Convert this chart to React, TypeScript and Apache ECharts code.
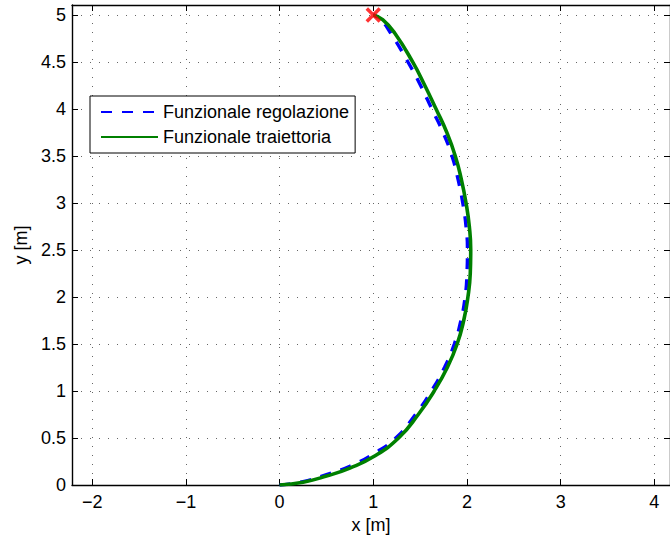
import React, { useEffect, useRef } from "react";
import * as echarts from "echarts";

// Trajectory obtained with the regulation functional (dashed blue)
const regolazioneX = [0, 0.25, 0.5, 0.75, 1.0, 1.24, 1.45, 1.62, 1.76, 1.865, 1.935, 1.98, 2.0, 2.005, 1.99, 1.955, 1.905, 1.84, 1.745, 1.625, 1.505, 1.37, 1.19, 1.08, 1.0];
const regolazioneY = [0, 0.035, 0.11, 0.2, 0.33, 0.5, 0.75, 1.0, 1.25, 1.5, 1.75, 2.0, 2.25, 2.5, 2.75, 3.0, 3.25, 3.5, 3.75, 4.0, 4.25, 4.5, 4.8, 4.95, 5.0];

// Trajectory obtained with the trajectory functional (solid green)
const traiettoriaX = [0, 0.25, 0.5, 0.75, 1.0, 1.27, 1.48, 1.65, 1.79, 1.895, 1.965, 2.01, 2.035, 2.04, 2.025, 1.99, 1.94, 1.875, 1.785, 1.67, 1.55, 1.42, 1.23, 1.1, 1.0];
const traiettoriaY = [0, 0.03, 0.095, 0.18, 0.3, 0.5, 0.75, 1.0, 1.25, 1.5, 1.75, 2.0, 2.25, 2.5, 2.75, 3.0, 3.25, 3.5, 3.75, 4.0, 4.25, 4.5, 4.805, 4.95, 5.0];

// Target point
const targetPoint = [1, 5];

const xTicks = [-2, -1, 0, 1, 2, 3, 4];
const yTicks = [0, 0.5, 1, 1.5, 2, 2.5, 3, 3.5, 4, 4.5, 5];

const seriesNames = ["Funzionale regolazione", "Funzionale traiettoria"];

const FONT = "Liberation Sans, Arial, Helvetica, sans-serif";

const zip = (xs: number[], ys: number[]) => xs.map((x, i) => [x, ys[i]]);

export default function App() {
  const ref = useRef<HTMLDivElement>(null);

  useEffect(() => {
    if (!ref.current) return;
    const chart = echarts.init(ref.current, null, { renderer: "svg" });

    const gridLine = {
      show: true,
      lineStyle: { color: "#666", width: 1, type: [1, 8] as number[] },
    };
    const axisLine = { show: true, onZero: false, lineStyle: { color: "#000", width: 1.4 } };
    const fmt = (v: number) => String(v).replace("-", "\u2212");

    chart.setOption({
      animation: false,
      backgroundColor: "#fff",
      textStyle: { fontFamily: FONT },
      grid: { left: 72, top: 5, right: -2, bottom: 55, containLabel: false },
      legend: {
        data: seriesNames,
        orient: "vertical",
        left: 90,
        top: 96,
        backgroundColor: "#fff",
        borderColor: "#000",
        borderWidth: 1,
        padding: [7, 6, 7, 10],
        itemWidth: 57,
        itemHeight: 14,
        itemGap: 7,
        itemStyle: { opacity: 0 },
        textStyle: { fontFamily: FONT, fontSize: 18, color: "#000" },
      },
      xAxis: [
        {
          type: "value",
          min: -2.216,
          max: 4.167,
          position: "bottom",
          name: "x [m]",
          nameLocation: "middle",
          nameGap: 29,
          nameTextStyle: { fontFamily: FONT, fontSize: 18, color: "#000" },
          axisLine,
          axisTick: { show: true, inside: true, length: 6, customValues: xTicks, lineStyle: { color: "#000" } },
          axisLabel: { customValues: xTicks, formatter: fmt, margin: 8, fontFamily: FONT, fontSize: 18, color: "#000" },
          splitLine: gridLine,
        },
        {
          type: "value",
          min: -2.216,
          max: 4.167,
          position: "top",
          axisLine,
          axisTick: { show: true, inside: true, length: 6, customValues: xTicks, lineStyle: { color: "#000" } },
          axisLabel: { show: false },
          splitLine: { show: false },
        },
      ],
      yAxis: [
        {
          type: "value",
          min: 0,
          max: 5.106,
          position: "left",
          name: "y [m]",
          nameLocation: "middle",
          nameGap: 41,
          nameTextStyle: { fontFamily: FONT, fontSize: 18, color: "#000" },
          axisLine,
          axisTick: { show: true, inside: true, length: 6, customValues: yTicks, lineStyle: { color: "#000" } },
          axisLabel: { customValues: yTicks, formatter: fmt, margin: 6, fontFamily: FONT, fontSize: 18, color: "#000" },
          splitLine: gridLine,
        },
        {
          type: "value",
          min: 0,
          max: 5.106,
          position: "right",
          axisLine,
          axisTick: { show: true, inside: true, length: 6, customValues: yTicks, lineStyle: { color: "#000" } },
          axisLabel: { show: false },
          splitLine: { show: false },
        },
      ],
      series: [
        {
          name: seriesNames[0],
          type: "line",
          data: zip(regolazioneX, regolazioneY),
          symbol: "none",
          smooth: 0.5,
          lineStyle: { color: "#0000ff", width: 3.4, type: [11, 10] },
          itemStyle: { color: "#0000ff" },
          z: 2,
        },
        {
          name: seriesNames[1],
          type: "line",
          data: zip(traiettoriaX, traiettoriaY),
          symbol: "none",
          smooth: 0.5,
          lineStyle: { color: "#008000", width: 3.6, type: "solid" },
          itemStyle: { color: "#008000" },
          z: 3,
        },
        {
          name: "target",
          type: "scatter",
          data: [targetPoint],
          symbol: "path://M0,0L10,10M10,0L0,10",
          symbolSize: 13,
          itemStyle: { color: "none", borderColor: "#ff0000", borderWidth: 3.5 },
          z: 5,
          clip: false,
        },
      ],
    });

    return () => chart.dispose();
  }, []);

  return (
    <div
      ref={ref}
      style={{ position: "absolute", left: 0, top: 0, width: 670, height: 540, background: "#fff" }}
    />
  );
}
